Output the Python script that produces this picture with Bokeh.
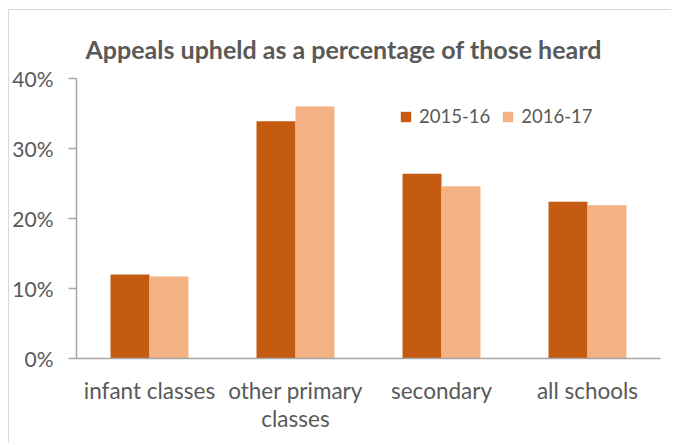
from bokeh.plotting import figure
from bokeh.models import FactorRange, Range1d, FixedTicker, PrintfTickFormatter, Legend, LegendItem, Title, ColumnDataSource
from bokeh.transform import dodge
from bokeh.embed import file_html
from bokeh.resources import INLINE

categories = ["infant classes", "other primary\nclasses", "secondary", "all schools"]
series_names = ["2015-16", "2016-17"]
values_2015_16 = [12.0, 33.9, 26.4, 22.4]
values_2016_17 = [11.7, 36.0, 24.6, 21.9]
y_ticks = [0, 10, 20, 30, 40]
title_text = "Appeals upheld as a percentage of those heard"

FONT = "Lato"
TXT = "#595959"
AX = "#a6a6a6"

src = ColumnDataSource(dict(cat=categories, a=values_2015_16, b=values_2016_17))

p = figure(x_range=FactorRange(*categories, range_padding=0), y_range=Range1d(0, 40),
           width=663, height=434, output_backend="svg", toolbar_location=None,
           min_border_left=67, min_border_right=12, min_border_top=68, min_border_bottom=86)
p.styles = {"border-left": "1px solid #d9d9d9", "border-top": "1px solid #d9d9d9",
            "margin-left": "8px", "margin-top": "9px"}
p.outline_line_color = None
p.xgrid.grid_line_color = None
p.ygrid.grid_line_color = None

r1 = p.vbar(x=dodge("cat", -0.1335, range=p.x_range), top="a", width=0.267, source=src,
            fill_color="#C55A11", line_color=None)
r2 = p.vbar(x=dodge("cat", 0.1335, range=p.x_range), top="b", width=0.267, source=src,
            fill_color="#F4B183", line_color=None)

p.yaxis.ticker = FixedTicker(ticks=y_ticks)
p.yaxis.formatter = PrintfTickFormatter(format="%d%%")
p.yaxis.minor_tick_line_color = None
p.yaxis.major_tick_out = 8
p.yaxis.major_tick_in = 0
p.yaxis.axis_line_color = AX
p.yaxis.axis_line_width = 1.5
p.yaxis.major_tick_line_color = AX
p.yaxis.major_tick_line_width = 1.5
p.yaxis.major_label_text_font = FONT
p.yaxis.major_label_text_font_size = "21px"
p.yaxis.major_label_text_color = TXT
p.yaxis.major_label_standoff = 15

p.xaxis.major_tick_line_color = None
p.xaxis.minor_tick_line_color = None
p.xaxis.axis_line_color = AX
p.xaxis.axis_line_width = 1.5
p.xaxis.major_label_text_font = FONT
p.xaxis.major_label_text_font_size = "22.5px"
p.xaxis.major_label_text_color = TXT
p.xaxis.major_label_standoff = 12
p.xaxis.major_label_text_line_height = 1.05

legend = Legend(items=[LegendItem(label=series_names[0], renderers=[r1]),
                       LegendItem(label=series_names[1], renderers=[r2])],
                orientation="horizontal", location=(323, 231),
                label_text_font=FONT, label_text_font_size="18.5px", label_text_color=TXT,
                glyph_width=13, glyph_height=13, spacing=11, label_standoff=7,
                background_fill_alpha=0, border_line_color=None, padding=0, margin=0)
p.add_layout(legend, "center")

p.title = Title(text=title_text, align="left", offset=9, standoff=30,
                text_font=FONT, text_font_size="25px", text_font_style="bold", text_color=TXT)

open("out.html", "w").write(file_html(p, INLINE))
